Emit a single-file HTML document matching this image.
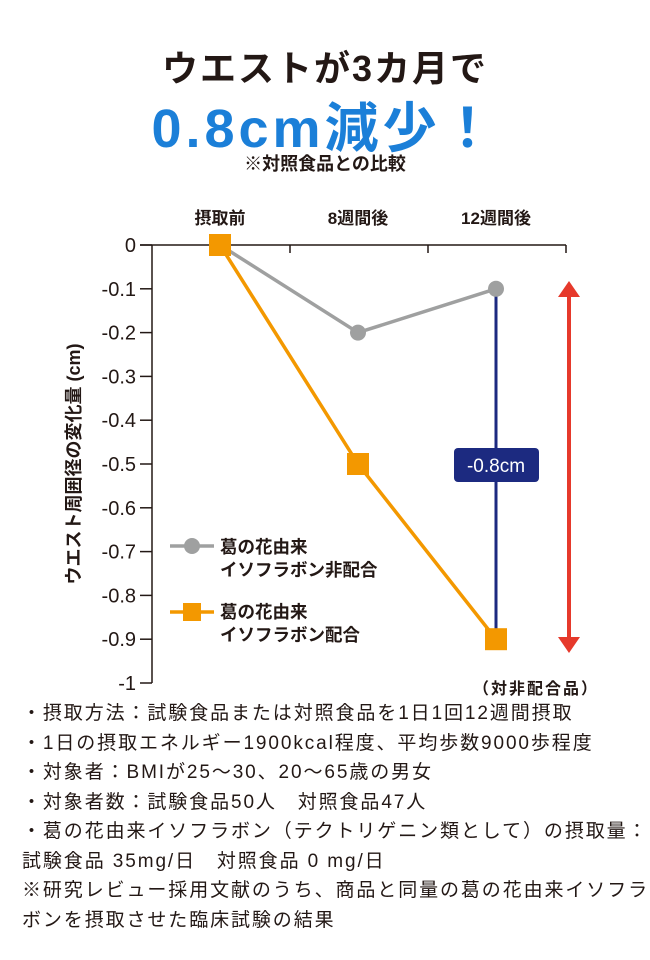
<!DOCTYPE html>
<html><head><meta charset="utf-8">
<style>
body{margin:0;width:650px;height:960px;background:#fff;font-family:"Liberation Sans","Noto Sans CJK JP",sans-serif;color:#231815;position:relative;overflow:hidden}
.t{position:absolute;left:0;width:650px;text-align:center;font-weight:bold}
#notes{position:absolute;left:22px;top:699px;font-size:19px;line-height:29.5px;color:#231815;letter-spacing:1.9px;white-space:nowrap}
</style></head><body>
<div class="t" style="top:40px;font-size:36px;letter-spacing:2px">ウエストが3カ月で</div>
<div class="t" style="top:84px;font-size:54px;color:#1b7fd8;letter-spacing:4px">0.8cm減少！</div>
<div class="t" style="top:150px;font-size:18px">※対照食品との比較</div>
<svg id="chart" width="650" height="700" style="position:absolute;left:0;top:0" font-family="Liberation Sans, Noto Sans CJK JP, sans-serif"></svg>
<div id="notes">
・摂取方法：試験食品または対照食品を1日1回12週間摂取<br>
・1日の摂取エネルギー1900kcal程度、平均歩数9000歩程度<br>
・対象者：BMIが25～30、20～65歳の男女<br>
・対象者数：試験食品50人　対照食品47人<br>
・葛の花由来イソフラボン（テクトリゲニン類として）の摂取量：<br>
試験食品 35mg/日　対照食品 0 mg/日<br>
※研究レビュー採用文献のうち、商品と同量の葛の花由来イソフラ<br>
ボンを摂取させた臨床試験の結果
</div>
<script>
const categories=["摂取前","8週間後","12週間後"];
const controlValues=[0,-0.2,-0.1];
const testValues=[0,-0.5,-0.9];
const yTicks=[0,-0.1,-0.2,-0.3,-0.4,-0.5,-0.6,-0.7,-0.8,-0.9,-1];
const yTickLabels=["0","-0.1","-0.2","-0.3","-0.4","-0.5","-0.6","-0.7","-0.8","-0.9","-1"];
const diffLabel="-0.8cm";
const svg=document.getElementById('chart');const NS='http://www.w3.org/2000/svg';
function mk(t,a,p){const e=document.createElementNS(NS,t);for(const k in a)e.setAttribute(k,a[k]);(p||svg).appendChild(e);return e;}
const y=v=>245+(-v)*438;
const x=i=>220+i*138;
let e;
e=mk('line',{x1:152,y1:245,x2:152,y2:683,stroke:'#231815','stroke-width':1.5});

e=mk('line',{x1:140,y1:245,x2:566,y2:245,stroke:'#231815','stroke-width':1.5});

[290,428,566].forEach(tx=>{e=mk('line',{x1:tx,y1:245,x2:tx,y2:253,stroke:'#231815','stroke-width':1.5});
});
categories.forEach((c,i)=>{e=mk('text',{x:x(i),y:224,'text-anchor':'middle','font-size':17,'font-weight':'bold',fill:'#231815'});e.textContent=c;
});
yTicks.forEach((v,i)=>{e=mk('line',{x1:140,y1:y(v),x2:152,y2:y(v),stroke:'#231815','stroke-width':1.5});

e=mk('text',{x:136,y:y(v)+7,'text-anchor':'end','font-size':20,fill:'#231815'});e.textContent=yTickLabels[i];
});
e=mk('text',{x:0,y:0,transform:'translate(80,464) rotate(-90)','text-anchor':'middle','font-size':18,'font-weight':'bold',fill:'#231815'});e.textContent='ウエスト周囲径の変化量 (cm)';

e=mk('line',{x1:x(2),y1:y(controlValues[2]),x2:x(2),y2:y(testValues[2]),stroke:'#1c2a80','stroke-width':3});

e=mk('rect',{x:454,y:448,width:85,height:34,rx:4,fill:'#1c2a80'});

e=mk('text',{x:496,y:472,'text-anchor':'middle','font-size':19,fill:'#fff'});e.textContent=diffLabel;

e=mk('line',{x1:569,y1:295,x2:569,y2:640,stroke:'#e6392b','stroke-width':4});

e=mk('polygon',{points:'569,281 558,297 580,297',fill:'#e6392b'});

e=mk('polygon',{points:'569,653 558,637 580,637',fill:'#e6392b'});

e=mk('polyline',{points:controlValues.map((v,i)=>x(i)+','+y(v)).join(' '),fill:'none',stroke:'#9fa0a0','stroke-width':3.5});

controlValues.forEach((v,i)=>{if(i===0)return;e=mk('circle',{cx:x(i),cy:y(v),r:8,fill:'#9fa0a0'});
});
e=mk('polyline',{points:testValues.map((v,i)=>x(i)+','+y(v)).join(' '),fill:'none',stroke:'#f39800','stroke-width':3.5});

testValues.forEach((v,i)=>{e=mk('rect',{x:x(i)-11,y:y(v)-11,width:22,height:22,fill:'#f39800'});
});
e=mk('line',{x1:170,y1:546,x2:214,y2:546,stroke:'#9fa0a0','stroke-width':3.5});

e=mk('circle',{cx:192,cy:546,r:8,fill:'#9fa0a0'});

e=mk('line',{x1:170,y1:612,x2:214,y2:612,stroke:'#f39800','stroke-width':3.5});

e=mk('rect',{x:183,y:603,width:18,height:18,fill:'#f39800'});

[['葛の花由来',553],['イソフラボン非配合',576],['葛の花由来',618],['イソフラボン配合',641]].forEach(a=>{
e=mk('text',{x:220,y:a[1],'font-size':17.5,'font-weight':'bold',fill:'#231815'});e.textContent=a[0];
});
e=mk('text',{x:536,y:694,'text-anchor':'middle','font-size':16,'font-weight':'bold',fill:'#231815','letter-spacing':2});e.textContent='（対非配合品）';

</script>
</body></html>
